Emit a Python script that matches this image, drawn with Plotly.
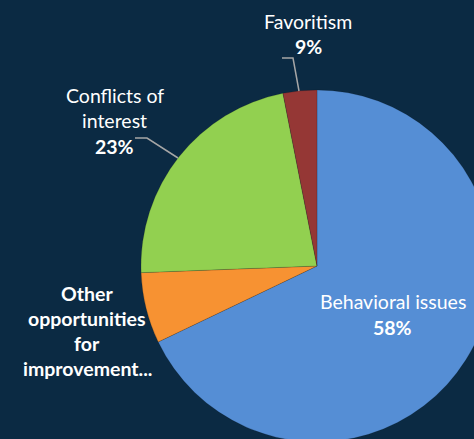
import plotly.graph_objects as go

labels = ["Behavioral issues", "Other opportunities for improvement...", "Conflicts of interest", "Favoritism"]
values = [67.9, 6.5, 22.5, 3.1]
pct_text = ["58%", "", "23%", "9%"]
colors = ["#558ed5", "#f79232", "#92d050", "#953735"]

BG = "#0b2a43"
W = H = 800
CX, CY, R = 317, 266, 176

def px(x):
    return x / W

def py(y):
    return 1 - y / H

fig = go.Figure(go.Pie(
    labels=labels, values=values, sort=False, direction="clockwise", rotation=0,
    marker=dict(colors=colors, line=dict(color="rgba(0,0,0,0.25)", width=0.6)),
    textinfo="none", hoverinfo="label+percent", showlegend=False,
    domain=dict(x=[px(CX - R), px(CX + R)], y=[py(CY + R), py(CY - R)]),
))

FONT = "Lato"
SIZE = 19.5
ann = []
def txt(s, x, y, size=SIZE, bold=False):
    ann.append(dict(text=("<b>%s</b>" % s) if bold else s, x=px(x), y=py(y), xref="paper", yref="paper",
                    showarrow=False, xanchor="center", yanchor="middle",
                    font=dict(family=FONT, size=size, color="white")))

txt(labels[3], 308, 22)
txt(pct_text[3], 308, 47, bold=True)
txt("Conflicts of", 115, 95)
txt("interest", 115, 120)
txt(pct_text[2], 115, 146, bold=True)
for i, s in enumerate(["Other", "opportunities", "for", "improvement..."]):
    txt(s, 87, 294 + i * 24.7, bold=True)
txt(labels[0], 393, 302)
txt(pct_text[0], 392, 328, bold=True)

shapes = []
def leader(pts):
    path = "M " + " L ".join("%f,%f" % (px(a), py(b)) for a, b in pts)
    shapes.append(dict(type="path", path=path, xref="paper", yref="paper",
                       line=dict(color="#a6a6a6", width=1.5)))

leader([(282, 58), (293, 58), (299, 91)])
leader([(135, 138), (147, 138), (178, 158)])

fig.update_layout(width=W, height=H, margin=dict(l=0, r=0, t=0, b=0),
                  paper_bgcolor=BG, plot_bgcolor=BG, annotations=ann, shapes=shapes)

fig.write_html("out.html", post_script="document.documentElement.style.overflow='hidden';document.body.style.overflow='hidden';document.body.style.margin='0';")
